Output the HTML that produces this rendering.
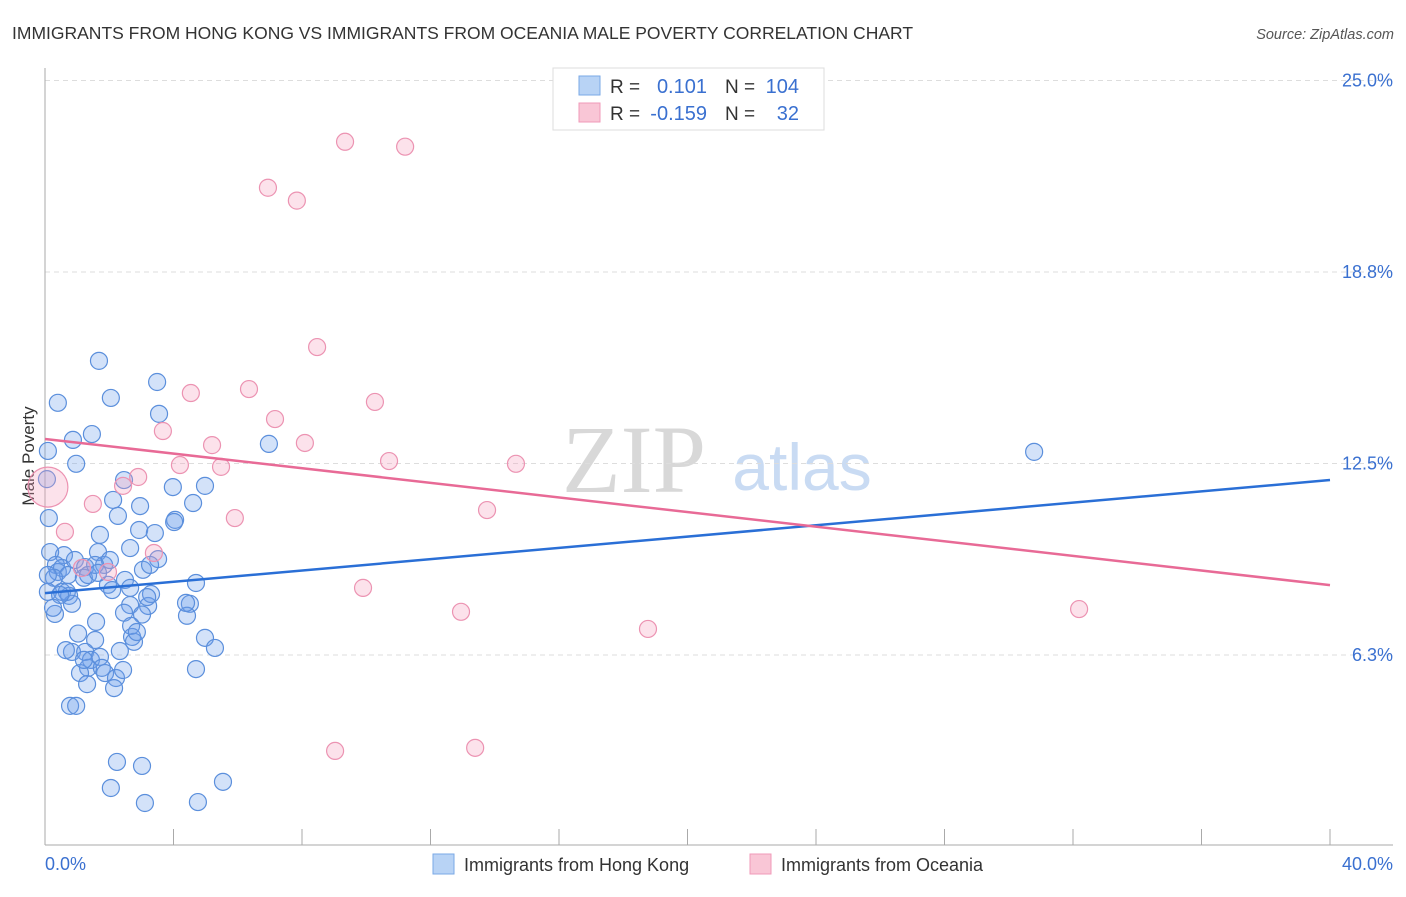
<!DOCTYPE html>
<html><head><meta charset="utf-8"><style>
body{margin:0;background:#fff;font-family:"Liberation Sans",sans-serif;}
</style></head><body>
<svg id="c" width="1406" height="892" xmlns="http://www.w3.org/2000/svg" style="font-family:'Liberation Sans',sans-serif">
<text x="12" y="39" font-size="17.5" fill="#333">IMMIGRANTS FROM HONG KONG VS IMMIGRANTS FROM OCEANIA MALE POVERTY CORRELATION CHART</text>
<text x="1394" y="39" font-size="14.5" fill="#555" font-style="italic" text-anchor="end">Source: ZipAtlas.com</text>
<text x="34" y="456" font-size="17" fill="#333" text-anchor="middle" transform="rotate(-90 34 456)">Male Poverty</text>
<text x="634" y="492" font-size="96" fill="#d8d8d8" font-family="'Liberation Serif',serif" text-anchor="middle">ZIP</text>
<text x="802" y="490" font-size="66" fill="#c9dbf3" text-anchor="middle">atlas</text>
<g id="grid"></g><g id="axes"></g><g id="pts"></g><g id="lines"></g>
<g>
<rect x="553" y="68" width="271" height="62" fill="#fff" stroke="#ddd"/>
<rect x="579" y="76" width="21" height="19" fill="#b8d3f5" stroke="#7aa8e6"/>
<rect x="579" y="103" width="21" height="19" fill="#f9c6d6" stroke="#f09ab8"/>
<text x="610" y="93" font-size="19" fill="#333">R =</text>
<text x="707" y="93" font-size="20" fill="#3a70d0" text-anchor="end">0.101</text>
<text x="725" y="93" font-size="19" fill="#333">N =</text>
<text x="799" y="93" font-size="20" fill="#3a70d0" text-anchor="end">104</text>
<text x="610" y="120" font-size="19" fill="#333">R =</text>
<text x="707" y="120" font-size="20" fill="#3a70d0" text-anchor="end">-0.159</text>
<text x="725" y="120" font-size="19" fill="#333">N =</text>
<text x="799" y="120" font-size="20" fill="#3a70d0" text-anchor="end">32</text>
</g>
<g>
<rect x="433" y="854" width="21" height="20" fill="#b8d3f5" stroke="#7aa8e6"/>
<text x="464" y="871" font-size="18" fill="#333">Immigrants from Hong Kong</text>
<rect x="750" y="854" width="21" height="20" fill="#f9c6d6" stroke="#f09ab8"/>
<text x="781" y="871" font-size="18" fill="#333">Immigrants from Oceania</text>
</g>
</svg>
<script>
const yTicks=[25,18.75,12.5,6.25];
const yTickLabels=["25.0%","18.8%","12.5%","6.3%"];
const xTickLabels=["0.0%","40.0%"];
const blueX=[1.68,0.40,2.05,3.49,3.55,1.46,0.87,0.09,0.97,6.97,30.79,0.06,2.46,3.98,4.98,2.12,2.96,4.61,0.12,2.27,4.05,4.02,1.71,2.93,3.42,0.59,2.65,1.65,0.16,0.34,0.40,0.53,0.72,0.93,1.25,1.84,2.02,3.05,2.49,3.52,1.21,0.28,1.96,4.70,0.53,0.75,0.09,0.84,0.68,2.65,3.21,3.30,4.51,2.46,3.02,4.42,0.31,1.59,2.68,1.03,2.71,2.77,1.56,4.98,5.29,0.84,1.25,1.43,1.71,2.33,1.34,1.77,1.09,1.87,2.21,2.43,4.70,1.31,2.15,0.78,0.97,2.24,3.02,2.05,3.11,5.54,4.76,2.65,1.34,0.47,1.56,3.27,0.09,0.25,0.65,1.21,3.18,2.09,1.65,2.86,4.39];
const blueY=[15.85,14.48,14.64,15.16,14.12,13.46,13.27,12.91,12.49,13.14,12.88,11.99,11.96,11.73,11.77,11.31,11.11,11.21,10.72,10.79,10.66,10.59,10.17,10.33,10.23,9.51,9.74,9.61,9.61,9.19,8.96,9.09,8.86,9.35,9.12,9.19,9.35,9.03,8.70,9.38,8.77,8.77,8.54,8.60,8.31,8.18,8.31,7.92,8.31,7.88,7.85,8.24,7.92,7.63,7.57,7.53,7.59,7.33,7.20,6.95,6.84,6.68,6.74,6.81,6.48,6.35,6.35,6.09,6.19,6.38,5.83,5.83,5.66,5.66,5.50,5.76,5.79,5.30,5.17,4.59,4.59,2.76,2.63,1.91,1.42,2.11,1.45,8.44,8.86,8.21,9.19,9.19,8.86,7.79,6.41,6.09,8.14,8.37,8.93,7.00,7.95];
const pinkX=[9.34,11.21,6.94,7.84,8.47,6.35,4.54,10.27,7.16,3.67,8.09,5.20,10.71,14.66,4.20,5.48,2.90,2.43,1.49,13.76,5.91,0.62,3.39,9.90,12.95,18.77,32.19,9.03,13.39,1.15,1.96];
const pinkY=[23.00,22.84,21.50,21.08,16.30,14.93,14.80,14.51,13.95,13.56,13.17,13.10,12.58,12.49,12.45,12.39,12.06,11.77,11.18,10.98,10.72,10.27,9.58,8.44,7.66,7.10,7.75,3.12,3.22,9.09,8.96];
const pinkBigX=[0.09];const pinkBigY=[11.73];
const blueTrend=[8.27,11.96];const pinkTrend=[13.30,8.53];
const X=v=>45+v/40*1285, Y=v=>846.5-v/6.25*191.5;
const NS="http://www.w3.org/2000/svg";
function mk(t,a,p){const e=document.createElementNS(NS,t);for(const k in a)e.setAttribute(k,a[k]);document.getElementById(p).appendChild(e);return e;}
yTicks.forEach((t,i)=>{
 const g=mk('line',{x1:45,x2:1393,y1:Y(t),y2:Y(t),stroke:'#ddd','stroke-dasharray':'5,4'},'grid');
 
 
 const l=mk('text',{x:1393,y:Y(t)+6,'font-size':18,fill:'#3a70d0','text-anchor':'end'},'grid');
 l.textContent=yTickLabels[i];
 
 
});
const ax=mk('line',{x1:45,x2:45,y1:68,y2:845,stroke:'#aaa'},'axes');


const bx=mk('line',{x1:45,x2:1393,y1:845,y2:845,stroke:'#aaa'},'axes');


for(let i=0;i<=10;i++){const t=mk('line',{x1:X(i*4),x2:X(i*4),y1:829,y2:845,stroke:'#aaa'},'axes');
 
 }
[[0,'start'],[40,'end']].forEach((d,i)=>{const t=mk('text',{x:i?1393:45,y:870,'font-size':18,fill:'#3a70d0','text-anchor':d[1]},'axes');t.textContent=xTickLabels[i];
 
 });
blueX.forEach((v,i)=>{const c=mk('circle',{cx:X(v),cy:Y(blueY[i]),r:8.5,fill:'rgba(110,160,235,0.3)',stroke:'#5b8fdc','stroke-width':1.2},'pts');
 
 });
pinkX.forEach((v,i)=>{const c=mk('circle',{cx:X(v),cy:Y(pinkY[i]),r:8.5,fill:'rgba(245,160,190,0.3)',stroke:'#ec93b2','stroke-width':1.2},'pts');
 
 });
pinkBigX.forEach((v,i)=>{const c=mk('circle',{cx:X(v),cy:Y(pinkBigY[i]),r:20,fill:'rgba(245,160,190,0.3)',stroke:'#ec93b2','stroke-width':1.2},'pts');
 
 });
const bl=mk('line',{x1:X(0),x2:X(40),y1:Y(blueTrend[0]),y2:Y(blueTrend[1]),stroke:'#2a6fd6','stroke-width':2.5},'lines');


const pl=mk('line',{x1:X(0),x2:X(40),y1:Y(pinkTrend[0]),y2:Y(pinkTrend[1]),stroke:'#e86a96','stroke-width':2.5},'lines');


</script>
</body></html>
